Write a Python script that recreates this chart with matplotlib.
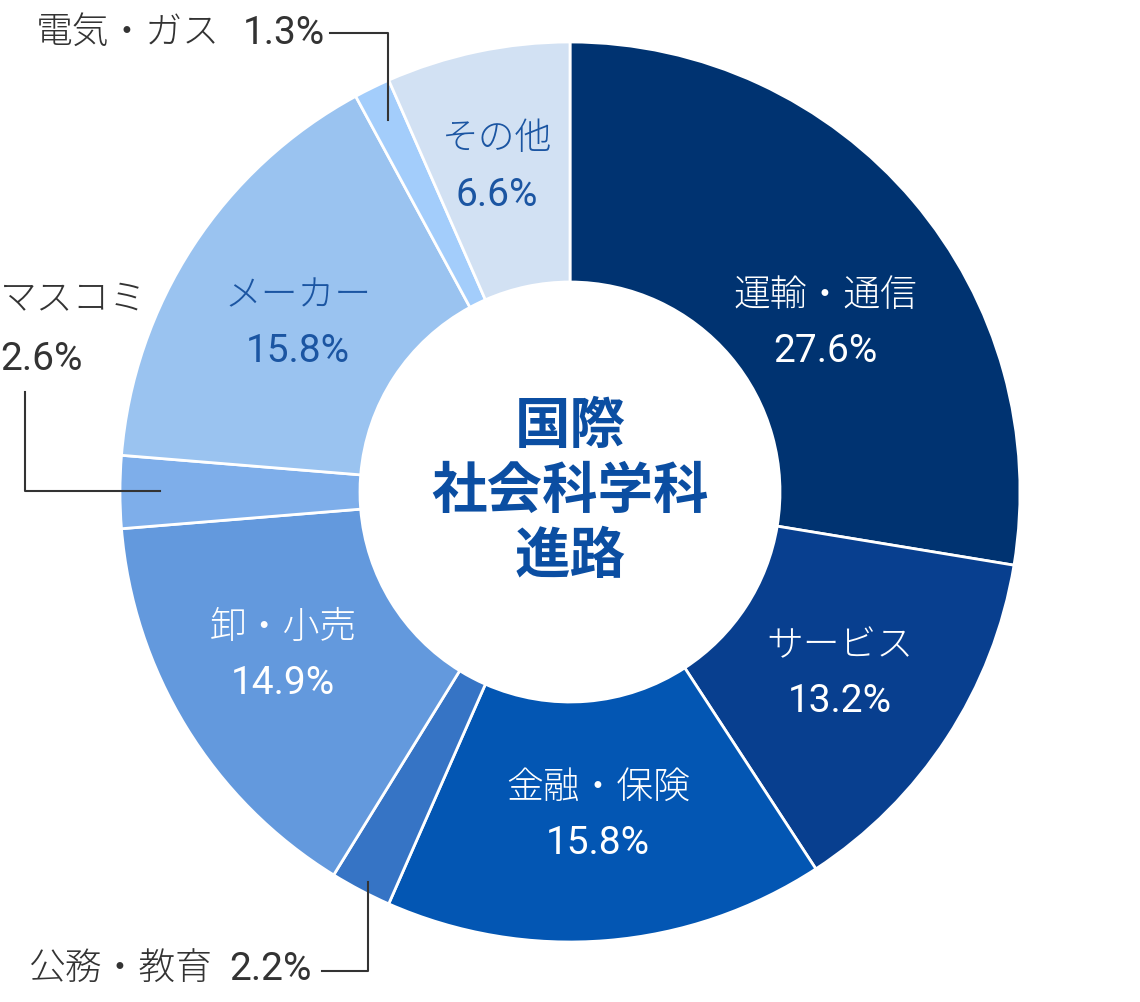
import matplotlib
matplotlib.use("Agg")
import matplotlib.pyplot as plt

plt.rcParams['font.family'] = ['Noto Sans CJK JP', 'DejaVu Sans']

# data (clockwise from 12 o'clock)
names = ["運輸・通信", "サービス", "金融・保険", "公務・教育", "卸・小売",
         "マスコミ", "メーカー", "電気・ガス", "その他"]
shares = [27.6, 13.2, 15.8, 2.2, 14.9, 2.6, 15.8, 1.3, 6.6]
colors = ["#003371", "#083f8f", "#0356b3", "#3674c5", "#6399dd",
          "#7eaeea", "#9ac3f0", "#a3cdfb", "#d2e1f3"]
text_colors = ["white", "white", "white", None, "white",
               None, "#1b55a2", None, "#1b55a2"]

# inside label anchors (pixel coords)
inside_pos = {0: (825, 324), 1: (840, 674), 2: (598, 816),
              4: (283, 656), 6: (298, 324), 8: (497, 167)}

W, H = 1140, 1002
CX, CY, R = 570, 492, 450

fig = plt.figure(figsize=(W / 100, H / 100), dpi=100)
ax = fig.add_axes([0, 0, 1, 1])

ax.pie(shares, colors=colors, radius=R, center=(CX, CY),
       startangle=-90, counterclock=True,
       wedgeprops=dict(width=240, edgecolor="white", linewidth=2))
ax.set_xlim(0, W)
ax.set_ylim(H, 0)
ax.set_aspect("equal")
ax.axis("off")

JP = dict(fontsize=26.5, fontweight="light", family=["Noto Sans CJK JP"])
NUM = dict(fontsize=28, fontweight="normal",
           family=["Roboto", "Noto Sans CJK JP"])

for i, (x, y) in inside_pos.items():
    ax.text(x, y - 28, names[i], ha="center", va="center",
            color=text_colors[i], **JP)
    ax.text(x, y + 28, f"{shares[i]}%", ha="center", va="center",
            color=text_colors[i], **NUM)

# callouts
GRAY = "#333333"
ax.text(325, 33, f"{shares[7]}%", ha="right", va="center", color=GRAY, **NUM)
ax.text(220, 33, names[7], ha="right", va="center", color=GRAY, **JP)
ax.plot([330, 388, 388], [33, 33, 120], color=GRAY, lw=1.5)

ax.text(0, 300, names[5], ha="left", va="center", color=GRAY, **JP)
ax.text(0, 360, f"{shares[5]}%", ha="left", va="center", color=GRAY, **NUM)
ax.plot([25, 25, 160], [392, 491, 491], color=GRAY, lw=1.5)

ax.text(312, 970, f"{shares[3]}%", ha="right", va="center", color=GRAY, **NUM)
ax.text(212, 970, names[3], ha="right", va="center", color=GRAY, **JP)
ax.plot([322, 368, 368], [971, 971, 882], color=GRAY, lw=1.5)

# center title
ax.text(CX, 492, "国際\n社会科学科\n進路", ha="center", va="center",
        fontsize=40, fontweight="bold", color="#0b4ea2", linespacing=1.2)

fig.savefig("out.png", dpi=100)
